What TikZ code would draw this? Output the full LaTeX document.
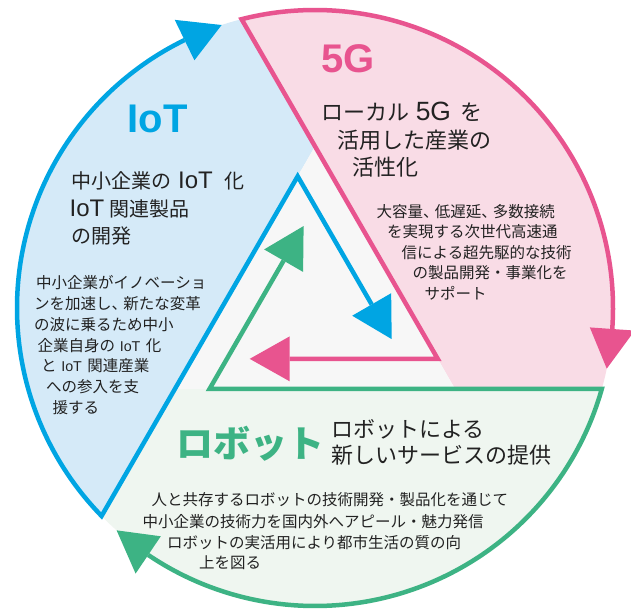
\documentclass[tikz,border=0pt]{standalone}
\usepackage{fontspec}
\setmainfont{Liberation Sans}
\newfontfamily\jp{Noto Sans CJK JP}
\newfontfamily\latbig{Liberation Sans}[Scale=1.2]
\newfontfamily\latsm{Liberation Sans}[Scale=0.92]
\newcommand\LatB[1]{{\latbig #1}}
\newcommand\LatS[1]{{\latsm #1}}
\newcommand\tcm{\makebox[0.75em][l]{、}}
\usetikzlibrary{calc}
\definecolor{cB}{HTML}{00A5E3}
\definecolor{cP}{HTML}{E8548F}
\definecolor{cG}{HTML}{3DB384}
\definecolor{fB}{HTML}{D5EAF8}
\definecolor{fP}{HTML}{F9DCE6}
\definecolor{fG}{HTML}{EFF6F0}
\definecolor{fC}{HTML}{F7F7F7}
\definecolor{tx}{HTML}{222222}
\begin{document}
\begin{tikzpicture}[x=1pt,y=1pt,
  txt/.style={inner sep=0pt, anchor=base west, text=tx},
  mainB/.style={txt, font=\jp\fontsize{20}{24}\selectfont},
  mainL/.style={txt, font=\jp\fontsize{22}{26}\selectfont},
  smallT/.style={txt, font=\jp\fontsize{15.5}{18}\selectfont},
  smallG/.style={txt, font=\jp\fontsize{15.5}{18}\selectfont},
  ttl/.style={inner sep=0pt, anchor=base west, font=\bfseries\fontsize{40}{44}\selectfont},
  outl/.style={line width=4.5pt, line join=miter, line cap=butt}]
\useasboundingbox (0,0) rectangle (631,610);
\fill[white] (0,0) rectangle (631,610);
% geometry
\coordinate (C) at (315,302);
\coordinate (T) at ($(C)+(90:161.7)$);
\coordinate (BL) at ($(C)+(210:161.7)$);
\coordinate (BR) at ($(C)+(330:161.7)$);
\coordinate (Pp) at ($(C)+(104.26:298)$);
\coordinate (Pg) at ($(C)+(-15.74:298)$);
\coordinate (Pb) at ($(C)+(224.26:298)$);
% outer arrow bases and tips
\coordinate (Ap) at ($(C)+(-4.04:298)$);
\coordinate (Ab) at ($(C)+(115.96:298)$);
\coordinate (Ag) at ($(C)+(235.96:298)$);
\coordinate (Op) at ($(C)+(-11.74:298)$);
\coordinate (Ob) at ($(C)+(108.26:298)$);
\coordinate (Og) at ($(C)+(228.26:298)$);
\coordinate (Op1) at ($(C)+(-4.04:320.5)$);
\coordinate (Op2) at ($(C)+(-4.04:275.5)$);
\coordinate (Ob1) at ($(C)+(115.96:320.5)$);
\coordinate (Ob2) at ($(C)+(115.96:275.5)$);
\coordinate (Og1) at ($(C)+(235.96:320.5)$);
\coordinate (Og2) at ($(C)+(235.96:275.5)$);
% inner turns and arrows
\coordinate (Tp) at ($(BR)+(120:34.64)$);
\coordinate (Tb) at ($(T)+(240:34.64)$);
\coordinate (Tg) at ($(BL)+(0:34.64)$);
\coordinate (Ip) at ($(Tp)+(180:188)$);
\coordinate (Jp) at ($(Tp)+(180:148)$);
\coordinate (Jp1) at ($(Jp)+(90:22.5)$);
\coordinate (Jp2) at ($(Jp)+(270:22.5)$);
\coordinate (Ib) at ($(Tb)+(300:188)$);
\coordinate (Jb) at ($(Tb)+(300:148)$);
\coordinate (Jb1) at ($(Jb)+(30:22.5)$);
\coordinate (Jb2) at ($(Jb)+(210:22.5)$);
\coordinate (Ig) at ($(Tg)+(60:188)$);
\coordinate (Jg) at ($(Tg)+(60:148)$);
\coordinate (Jg1) at ($(Jg)+(150:22.5)$);
\coordinate (Jg2) at ($(Jg)+(330:22.5)$);
% fills
\fill[fB] (Pb) -- (T) -- (Pp) arc[start angle=104.26, end angle=224.26, radius=298] -- cycle;
\fill[fP] (Pg) arc[start angle=-15.74, end angle=104.26, radius=298] -- (BR) -- cycle;
\fill[fG] (Pb) arc[start angle=224.26, end angle=344.26, radius=298] -- (BL) -- cycle;
\fill[fC] (T) -- (BL) -- (BR) -- cycle;
% outlines
\draw[outl, cP] (Ap) arc[start angle=-4.04, end angle=104.26, radius=298] -- (Tp) -- (Jp);
\draw[outl, cB] (Ab) arc[start angle=115.96, end angle=224.26, radius=298] -- (Tb) -- (Jb);
\draw[outl, cG] (Ag) arc[start angle=235.96, end angle=344.26, radius=298] -- (Tg) -- (Jg);
% arrowheads
\fill[cP] (Op) -- (Op1) -- (Op2) -- cycle;
\fill[cB] (Ob) -- (Ob1) -- (Ob2) -- cycle;
\fill[cG] (Og) -- (Og1) -- (Og2) -- cycle;
\fill[cP] (Ip) -- (Jp1) -- (Jp2) -- cycle;
\fill[cB] (Ib) -- (Jb1) -- (Jb2) -- cycle;
\fill[cG] (Ig) -- (Jg1) -- (Jg2) -- cycle;
% titles
\node[ttl, text=cB] (tIoT) at (127.5,477) {IoT};
\node[ttl, text=cP] (t5G) at (320.8,537.5) {5G};
\node[inner sep=0pt, anchor=base west, text=cG, font=\jp\bfseries\fontsize{37}{40}\selectfont] (tRobot) at (176,152.4) {ロボット};
% blue main
\node[mainB] (b1) at (71,421.4) {中小企業の\hspace{0.35em}\LatB{IoT}\hspace{0.6em}化};
\node[mainB] (b2) at (69.5,393.4) {\LatB{IoT}\hspace{0.25em}関連製品};
\node[mainB] (b3) at (71,366.4) {の開発};
% pink main
\node[mainL] (p1) at (321,489.6) {ローカル\hspace{0.3em}\LatB{5G}\hspace{0.45em}を};
\node[mainL] (p2) at (337,461.6) {活用した産業の};
\node[mainL] (p3) at (352,434.6) {活性化};
% green main
\node[mainL] (g1) at (331,172.6) {ロボットによる};
\node[mainL] (g2) at (331,146.6) {新しいサービスの提供};
% blue small
\node[smallT] (bs1) at (36,321.3) {中小企業がイノベーショ};
\node[smallT] (bs2) at (34,300.5) {ンを加速し\tcm 新たな変革};
\node[smallT] (bs3) at (34,279.7) {の波に乗るため中小};
\node[smallT] (bs4) at (37.5,258.9) {企業自身の\hspace{0.3em}\LatS{IoT}\hspace{0.35em}化};
\node[smallT] (bs5) at (41,238.1) {と\hspace{0.3em}\LatS{IoT}\hspace{0.35em}関連産業};
\node[smallT] (bs6) at (46,217.3) {への参入を支};
\node[smallT] (bs7) at (52.5,196.5) {援する};
% pink small
\node[smallT] (ps1) at (376.5,392.8) {大容量\tcm 低遅延\tcm 多数接続};
\node[smallT] (ps2) at (387,372.3) {を実現する次世代高速通};
\node[smallT] (ps3) at (401.5,351.8) {信による超先駆的な技術};
\node[smallT] (ps4) at (412.5,331.3) {の製品開発・事業化を};
\node[smallT] (ps5) at (424.5,310.8) {サポート};
% green small
\node[smallG] (gs1) at (151.4,104.1) {人と共存するロボットの技術開発・製品化を通じて};
\node[smallG] (gs2) at (142.5,82.4) {中小企業の技術力を国内外へアピール・魅力発信};
\node[smallG] (gs3) at (166.8,61.6) {ロボットの実活用により都市生活の質の向};
\node[smallG] (gs4) at (199,41.1) {上を図る};
\end{tikzpicture}
\end{document}
